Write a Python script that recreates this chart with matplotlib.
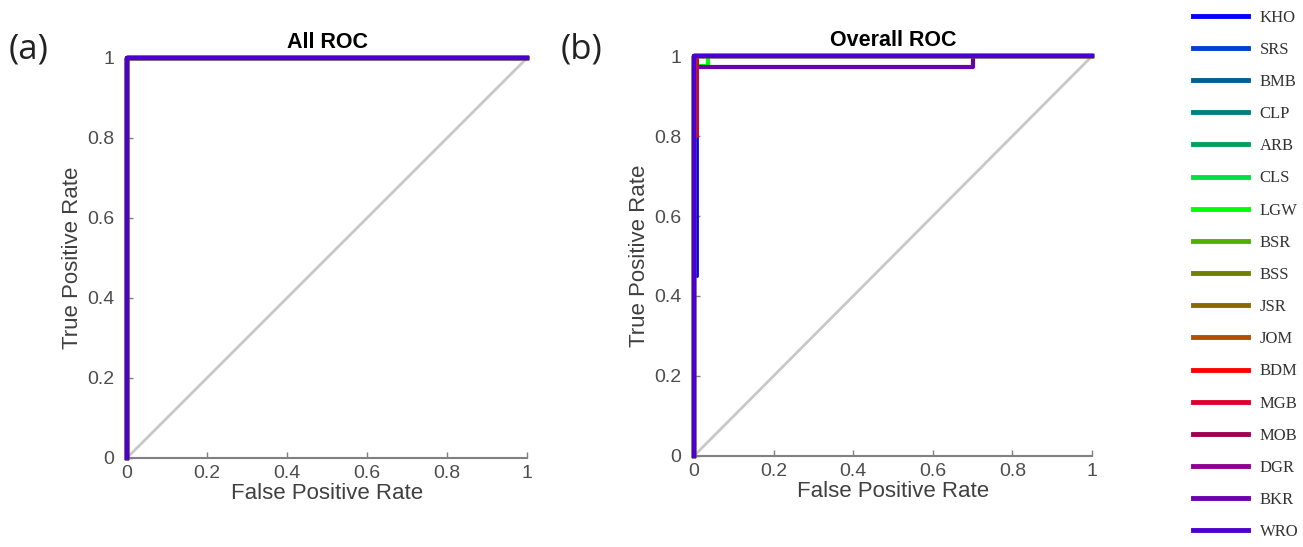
import numpy as np
import matplotlib.pyplot as plt
from matplotlib.lines import Line2D

# class names and colours (legend order)
classes = ['KHO', 'SRS', 'BMB', 'CLP', 'ARB', 'CLS', 'LGW', 'BSR', 'BSS',
           'JSR', 'JOM', 'BDM', 'MGB', 'MOB', 'DGR', 'BKR', 'WRO']
colors = ['#0000ff', '#0040d0', '#006090', '#008080', '#00a060', '#00e040',
          '#00ff00', '#50b000', '#708000', '#8a6a00', '#b05000', '#ff0000',
          '#e00030', '#a00050', '#900090', '#6a00b0', '#4a00d0']

# (a) all ROC: every class is a perfect step
fpr_all = [0, 0, 1]
tpr_all = [0, 1, 1]

# (b) overall ROC, per class points
fpr_overall = {
    'LGW': [0, 0, 0.035, 0.035, 1],
    'KHO': [0, 0, 0.008, 0.008, 1],
    'MGB': [0, 0, 0.008, 0.008, 1],
    'BKR': [0, 0, 0.7, 0.7, 1],
}
tpr_overall = {
    'LGW': [0, 0.975, 0.975, 1, 1],
    'KHO': [0, 0.45, 0.45, 1, 1],
    'MGB': [0, 0.8, 0.8, 1, 1],
    'BKR': [0, 0.972, 0.972, 1, 1],
}

plt.rcParams['font.family'] = ['Liberation Sans', 'DejaVu Sans']

fig = plt.figure(figsize=(13.03, 5.47), dpi=100)
ax1 = fig.add_axes([0.0975, 0.163, 0.307, 0.731])
ax2 = fig.add_axes([0.5326, 0.1665, 0.3055, 0.731])


def style_axis(ax, title):
    ax.plot([0, 1], [0, 1], color='#c8c8c8', lw=2, zorder=1)
    ax.set_xlim(0, 1)
    ax.set_ylim(0, 1)
    ticks = [0, 0.2, 0.4, 0.6, 0.8, 1]
    labels = ['0', '0.2', '0.4', '0.6', '0.8', '1']
    ax.set_xticks(ticks, labels)
    ax.set_yticks(ticks, labels)
    ax.tick_params(colors='#808080', labelcolor='#4d4d4d', labelsize=14,
                   direction='in', length=4, width=1)
    ax.tick_params(axis='x', pad=5)
    ax.tick_params(axis='y', pad=9)
    for s in ['top', 'right']:
        ax.spines[s].set_visible(False)
    for s in ['left', 'bottom']:
        ax.spines[s].set_color('#808080')
        ax.spines[s].set_linewidth(1.5)
    ax.set_xlabel('False Positive Rate', fontsize=16, color='#404040',
                  labelpad=1)
    ax.set_ylabel('True Positive Rate', fontsize=16, color='#404040',
                  labelpad=3)
    ax.set_title(title, fontsize=15.5, fontweight='bold', pad=7)


style_axis(ax1, 'All ROC')
style_axis(ax2, 'Overall ROC')

for name, c in zip(classes, colors):
    ax1.plot(fpr_all, tpr_all, color=c, lw=3, clip_on=False, zorder=3)

# odd curves first, perfect ones drawn over them
for name in ['LGW', 'BKR', 'KHO', 'MGB']:
    c = colors[classes.index(name)]
    lw = {'LGW': 3, 'BKR': 3}.get(name, 2)
    ax2.plot(fpr_overall[name], tpr_overall[name], color=c, lw=lw,
             clip_on=False, zorder=3)
for name, c in zip(classes, colors):
    if name in fpr_overall:
        continue
    ax2.plot(fpr_all, tpr_all, color=c, lw=3, clip_on=False, zorder=4)

fig.text(0.007, 0.91, '(a)', fontsize=25, family='Open Sans',
         color='#222222', va='center')
fig.text(0.430, 0.91, '(b)', fontsize=25, family='Open Sans',
         color='#222222', va='center')

handles = [Line2D([], [], color=c, lw=3.5) for c in colors]
fig.legend(handles, classes, loc='upper left', bbox_to_anchor=(0.904, 1.01),
           frameon=False, prop={'family': 'Liberation Serif', 'size': 12},
           labelspacing=0.97, handlelength=3.3, handletextpad=0.7,
           labelcolor='#333333')

fig.savefig('out.png', dpi=100)
